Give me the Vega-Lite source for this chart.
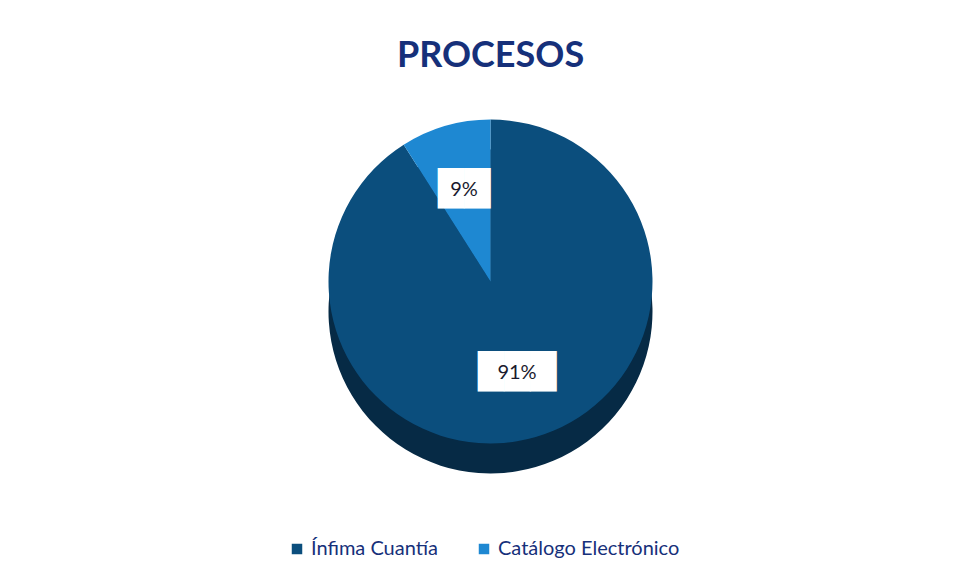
{
  "$schema": "https://vega.github.io/schema/vega-lite/v6.json",
  "width": 955,
  "height": 578,
  "autosize": {"type": "fit", "contains": "padding"},
  "background": "white",
  "padding": {"top": 38, "bottom": 118, "left": 36, "right": 10},
  "title": {
    "text": "PROCESOS",
    "font": "Lato",
    "fontWeight": "bold",
    "fontSize": 36,
    "color": "#16307A",
    "offset": 28,
    "anchor": "middle"
  },
  "data": {
    "values": [
      {"tipo": "Ínfima Cuantía", "valor": 91, "etiqueta": "91%", "caja": "███", "orden": 1},
      {"tipo": "Catálogo Electrónico", "valor": 9, "etiqueta": "9%", "caja": "██", "orden": 2}
    ]
  },
  "config": {"view": {"stroke": null}},
  "encoding": {
    "theta": {"field": "valor", "type": "quantitative", "stack": true},
    "order": {"field": "orden", "type": "quantitative"}
  },
  "layer": [
    {
      "mark": {"type": "arc", "outerRadius": 162, "yOffset": 30, "color": "#062A45"},
      "encoding": {}
    },
    {
      "mark": {"type": "arc", "outerRadius": 162},
      "encoding": {
        "color": {
          "field": "tipo",
          "type": "nominal",
          "scale": {"domain": ["Ínfima Cuantía", "Catálogo Electrónico"], "range": ["#0B4E7D", "#1E88D2"]},
          "legend": {
            "orient": "none",
            "legendX": 251,
            "legendY": 436,
            "title": null,
            "direction": "horizontal",
            "symbolType": "square",
            "symbolSize": 110,
            "labelFont": "Lato",
            "labelFontSize": 20,
            "labelColor": "#16307A",
            "labelLimit": 0,
            "columnPadding": 36
          }
        }
      }
    },
    {
      "mark": {"type": "text", "font": "DejaVu Sans", "fontSize": 34, "color": "white", "baseline": "middle", "align": "center"},
      "encoding": {
        "radius": {"value": 95},
        "text": {"field": "caja", "type": "nominal"}
      }
    },
    {
      "mark": {"type": "text", "font": "Lato", "fontSize": 20, "color": "#1a1a2e", "baseline": "middle", "align": "center"},
      "encoding": {
        "radius": {"value": 95},
        "text": {"field": "etiqueta", "type": "nominal"}
      }
    }
  ]
}
